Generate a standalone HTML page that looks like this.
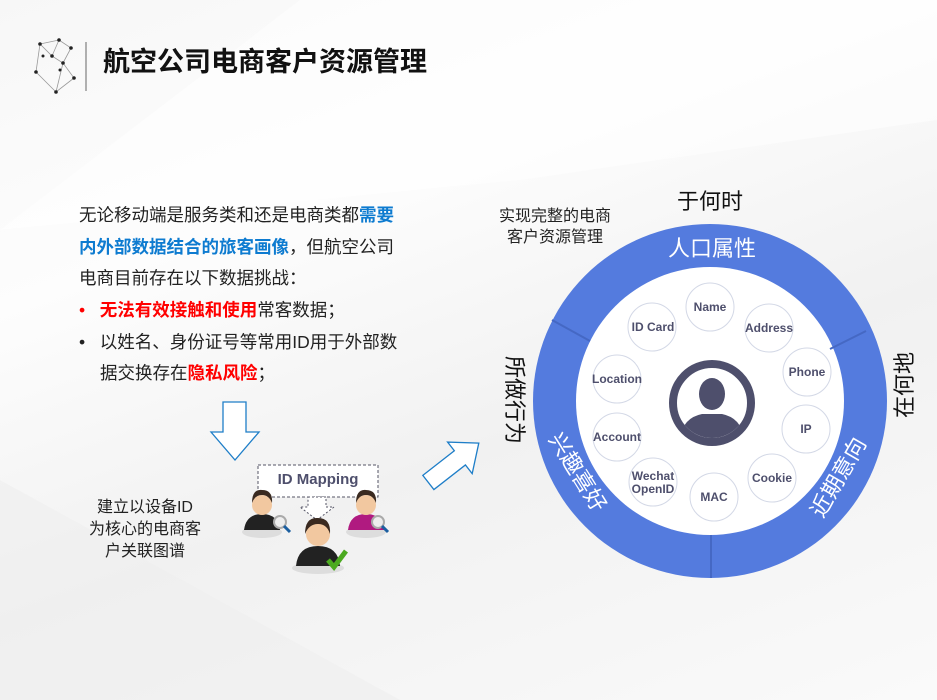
<!DOCTYPE html>
<html><head><meta charset="utf-8"><style>
body{margin:0}
.p{position:relative;width:937px;height:700px;overflow:hidden;background:linear-gradient(160deg,#f7f7f7 0%,#fdfdfd 30%,#f1f1f1 60%,#fafafa 100%);font-family:"Liberation Sans","Noto Sans CJK SC",sans-serif}
.t{position:absolute;white-space:nowrap;color:#222}
.b{color:#0d7bd0;font-weight:bold}
.r{color:#f00;font-weight:bold}
</style></head><body><div class="p">
<svg width="937" height="700" style="position:absolute;left:0;top:0">
<polygon points="0,230 300,0 937,0 937,120 520,180" fill="#fff" opacity="0.5"/>
<polygon points="0,480 400,700 0,700" fill="#eee" opacity="0.6"/>
<g stroke="#999" stroke-width="0.8" fill="none">
<polyline points="40,44 59,40 71,48 63,63 74,78 56,92 36,72 40,44 52,56 63,63 56,92"/>
<polyline points="52,56 59,40 M52,56 43,56 36,72 M63,63 60,70 74,78"/>
</g>
<g fill="#222"><circle cx="40" cy="44" r="1.8"/><circle cx="59" cy="40" r="1.8"/><circle cx="71" cy="48" r="1.8"/><circle cx="52" cy="56" r="1.8"/><circle cx="43" cy="56" r="1.5"/><circle cx="63" cy="63" r="1.8"/><circle cx="60" cy="70" r="1.5"/><circle cx="74" cy="78" r="1.8"/><circle cx="56" cy="92" r="1.8"/><circle cx="36" cy="72" r="1.8"/></g>
<line x1="86" y1="42" x2="86" y2="91" stroke="#666" stroke-width="1"/>
<polygon points="223,402 246,402 246,432 259,432 235,460 211,432 223,432" fill="#fff" stroke="#1e7ec8" stroke-width="1.3"/>
<g transform="translate(452,464) rotate(-38)"><polygon points="-30,-9 10,-9 10,-20 34,0 10,20 10,9 -30,9" fill="#fff" stroke="#1e7ec8" stroke-width="1.3"/></g>
<rect x="258" y="465" width="120" height="32" fill="#fff" stroke="#556" stroke-width="1" stroke-dasharray="3,2"/>
<polygon points="308,497 326,497 326,507 334,507 317,520 300,507 308,507" fill="#fff" stroke="#556" stroke-width="1" stroke-dasharray="2,2"/>
<g>
<ellipse cx="262" cy="532" rx="20" ry="6" fill="#ddd"/>
<path d="M244,530 q2,-16 18,-16 q16,0 18,16z" fill="#222"/><circle cx="262" cy="505" r="10" fill="#f2c8a0"/><path d="M252,503 q0,-14 10,-13 q11,0 10,13 q-3,-8 -10,-8 q-7,0 -10,8z" fill="#3a2a20"/>
<circle cx="280" cy="522" r="6" fill="#eee" stroke="#aaa" stroke-width="2"/><line x1="284" y1="526" x2="290" y2="532" stroke="#1c5fa0" stroke-width="3"/>
<ellipse cx="366" cy="532" rx="20" ry="6" fill="#ddd"/>
<path d="M348,530 q2,-16 18,-16 q16,0 18,16z" fill="#b01a80"/><circle cx="366" cy="505" r="10" fill="#f2c8a0"/><path d="M356,503 q0,-14 10,-13 q11,0 10,13 q-3,-8 -10,-8 q-7,0 -10,8z" fill="#3a2a20"/>
<circle cx="378" cy="522" r="6" fill="#eee" stroke="#aaa" stroke-width="2"/><line x1="382" y1="526" x2="388" y2="532" stroke="#1c5fa0" stroke-width="3"/>
<ellipse cx="318" cy="568" rx="26" ry="6" fill="#ddd"/>
<path d="M296,566 q2,-20 22,-20 q20,0 22,20z" fill="#222"/><circle cx="318" cy="534" r="12" fill="#f2c8a0"/><path d="M305,534 q0,-17 13,-16 q13,0 12,16 q-3,-10 -12,-10 q-9,0 -13,10z" fill="#3a2a20"/>
<polyline points="328,560 334,567 346,551" fill="none" stroke="#4caa20" stroke-width="5"/>
</g>
<circle cx="710" cy="401" r="177" fill="#547bde"/>
<circle cx="710" cy="401" r="134" fill="#fff"/>
<g stroke="#4568c4" stroke-width="2"><line x1="552" y1="320" x2="590" y2="341"/><line x1="866" y1="331" x2="830" y2="349"/><line x1="711" y1="578" x2="711" y2="535"/></g>
<g fill="#fff" stroke="#d3d8e6" stroke-width="1">
<circle cx="710" cy="307" r="24"/><circle cx="652" cy="327" r="24"/><circle cx="769" cy="328" r="24"/><circle cx="807" cy="372" r="24"/><circle cx="617" cy="379" r="24"/><circle cx="806" cy="429" r="24"/><circle cx="617" cy="437" r="24"/><circle cx="772" cy="478" r="24"/><circle cx="653" cy="482" r="24"/><circle cx="714" cy="497" r="24"/>
</g>
<circle cx="712" cy="403" r="39" fill="#fff" stroke="#4e4f6c" stroke-width="8"/>
<clipPath id="c"><circle cx="712" cy="403" r="35"/></clipPath>
<g clip-path="url(#c)" fill="#4e4f6c"><ellipse cx="712" cy="394" rx="13" ry="16"/><path d="M680,440 q2,-22 22,-26 l20,0 q20,4 22,26z"/></g>
<g font-family="Liberation Sans,sans-serif" font-weight="bold" font-size="12" fill="#4e4f6c" text-anchor="middle">
<text x="710" y="311">Name</text><text x="653" y="331">ID Card</text><text x="769" y="332">Address</text><text x="807" y="376">Phone</text><text x="617" y="383">Location</text><text x="806" y="433">IP</text><text x="617" y="441">Account</text><text x="772" y="482">Cookie</text><text x="653" y="480">Wechat</text><text x="653" y="493">OpenID</text><text x="714" y="501">MAC</text>
</g>
<g font-family="Noto Sans CJK SC,sans-serif" fill="#fff" font-size="22" text-anchor="middle">
<text x="712" y="256">人口属性</text>
<text transform="translate(578,472) rotate(58)" y="8">兴趣喜好</text>
<text transform="translate(838,477) rotate(-60)" y="8">近期意向</text>
</g>
<g font-family="Noto Sans CJK SC,sans-serif" fill="#111" font-size="22" text-anchor="middle">
<text x="710" y="209">于何时</text>
<text transform="translate(904,385) rotate(-90)" y="8">在何地</text>
<text transform="translate(515,400) rotate(90)" y="8">所做行为</text>
</g>
</svg>
<div class="t" style="left:103px;top:40px;font-size:27px;font-weight:bold;color:#111">航空公司电商客户资源管理</div>
<div class="t" style="left:79px;top:200px;font-size:17.5px;line-height:31.6px">无论移动端是服务类和还是电商类都<span class="b">需要</span><br><span class="b">内外部数据结合的旅客画像</span>，但航空公司<br>电商目前存在以下数据挑战：</div>
<div class="t" style="left:79px;top:295px;font-size:17.5px;line-height:31.6px"><span style="color:#f00">•</span>&nbsp;&nbsp;&nbsp;<span class="r">无法有效接触和使用</span>常客数据；<br>•&nbsp;&nbsp;&nbsp;以姓名、身份证号等常用ID用于外部数<br><span style="padding-left:21px">据交换存在<span class="r">隐私风险</span>；</span></div>
<div class="t" style="left:258px;top:471px;width:120px;text-align:center;font-size:15px;font-weight:bold;color:#4e4f6c">ID Mapping</div>
<div class="t" style="left:85px;top:497px;width:120px;text-align:center;font-size:16px;line-height:22px">建立以设备ID<br>为核心的电商客<br>户关联图谱</div>
<div class="t" style="left:490px;top:206px;width:130px;text-align:center;font-size:16px;line-height:21px">实现完整的电商<br>客户资源管理</div>
</div></body></html>
